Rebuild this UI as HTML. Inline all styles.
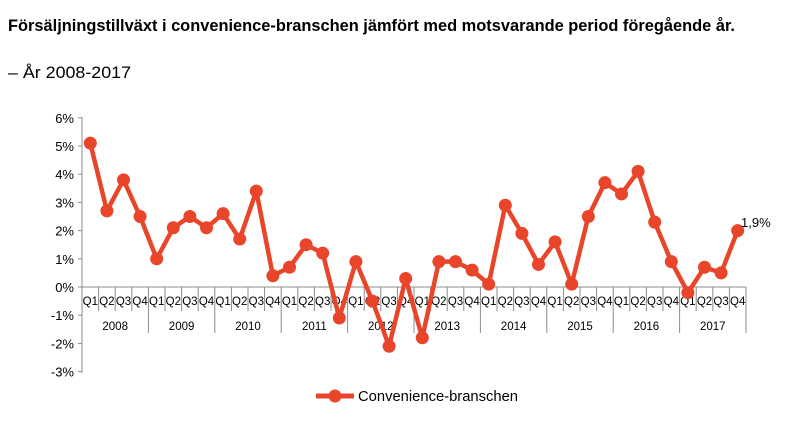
<!DOCTYPE html>
<html><head><meta charset="utf-8"><style>
body{margin:0;background:#fff;width:800px;height:425px;overflow:hidden;font-family:"Liberation Sans",sans-serif}
</style></head><body>
<svg width="800" height="425" xmlns="http://www.w3.org/2000/svg" font-family="Liberation Sans, sans-serif">
<text x="8" y="31" font-size="16.5" font-weight="bold" fill="#000" textLength="727" lengthAdjust="spacingAndGlyphs">Försäljningstillväxt i convenience-branschen jämfört med motsvarande period föregående år.</text>
<text x="8" y="78" font-size="16.5" fill="#000" textLength="123" lengthAdjust="spacingAndGlyphs">– År 2008-2017</text>
<g id="ax" stroke="#8c8c8c" stroke-width="1" fill="none"></g>
<g id="lab" font-size="12" fill="#000"></g>
<g id="ser"></g>
<g transform="translate(316,396)">
<line x1="0" y1="0" x2="38" y2="0" stroke="#E8452A" stroke-width="5"/>
<circle cx="19" cy="0" r="6.5" fill="#E8452A"/>
<text x="42" y="5" font-size="15" fill="#000" textLength="160" lengthAdjust="spacingAndGlyphs">Convenience-branschen</text>
</g>
<text x="741" y="227" font-size="13" fill="#000">1,9%</text>
</svg>
<script>
var NS="http://www.w3.org/2000/svg";
function el(p,t,a,txt){var e=document.createElementNS(NS,t);for(var k in a)e.setAttribute(k,a[k]);if(txt!=null)e.textContent=txt;document.getElementById(p).appendChild(e);return e;}
var x0=82,w=16.6,y0=287,s=28.2;
el("ax","line",{x1:x0,y1:117,x2:x0,y2:373});
for(var v=-3;v<=6;v++){var y=y0-v*s;el("ax","line",{x1:x0-4,y1:y,x2:x0,y2:y});
el("lab","text",{x:x0-8,y:y+5,"text-anchor":"end","font-size":"13"},v+"%");}
el("ax","line",{x1:x0,y1:y0,x2:x0+40*w,y2:y0});
for(var i=0;i<=40;i++){var x=x0+i*w;el("ax","line",{x1:x,y1:y0,x2:x,y2:(i%4==0)?333:311});
if(i<40)el("lab","text",{x:x+w/2,y:305,"text-anchor":"middle","font-size":"11.5"},"Q"+(i%4+1));}
for(var j=0;j<10;j++)el("lab","text",{x:x0+(j*4+2)*w,y:330,"text-anchor":"middle","font-size":"11.5"},2008+j);
var d=[5.1,2.7,3.8,2.5,1.0,2.1,2.5,2.1,2.6,1.7,3.4,0.4,0.7,1.5,1.2,-1.1,0.9,-0.5,-2.1,0.3,-1.8,0.9,0.9,0.6,0.1,2.9,1.9,0.8,1.6,0.1,2.5,3.7,3.3,4.1,2.3,0.9,-0.2,0.7,0.5,2.0];
var pts=d.map(function(v,i){return (x0+(i+0.5)*w).toFixed(1)+","+(y0-v*s).toFixed(1)});
el("ser","polyline",{points:pts.join(" "),fill:"none",stroke:"#E8452A","stroke-width":4.5,"stroke-linejoin":"round"});
d.forEach(function(v,i){el("ser","circle",{cx:x0+(i+0.5)*w,cy:y0-v*s,r:6.5,fill:"#E8452A"});});
</script>
</body></html>
